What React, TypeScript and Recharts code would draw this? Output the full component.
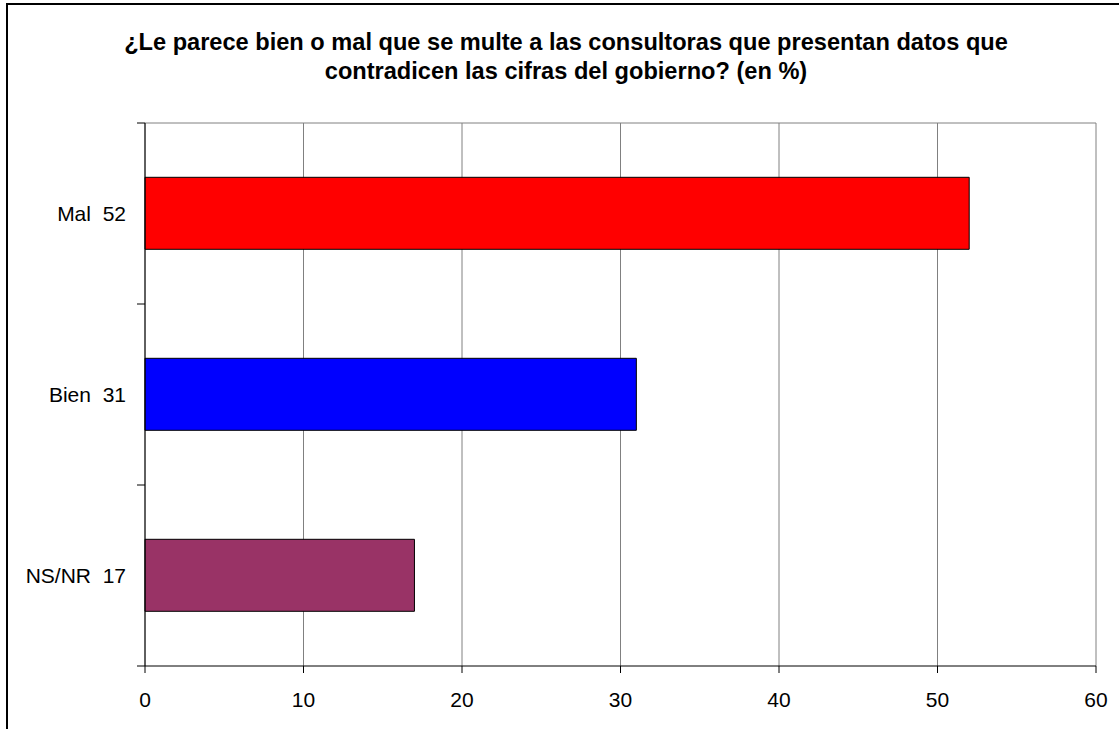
import React from "react";
import { BarChart, Bar, XAxis, YAxis, CartesianGrid, Cell } from "recharts";

const categories = ["Mal", "Bien", "NS/NR"];
const values = [52, 31, 17];
const barColors = ["#FF0000", "#0000FF", "#993366"];
const xTicks = [0, 10, 20, 30, 40, 50, 60];
const titleLines = [
  "¿Le parece bien o mal que se multe a las consultoras que presentan datos que",
  "contradicen las cifras del gobierno? (en %)",
];

const data = categories.map((name, i) => ({ name, label: `${name}  ${values[i]}`, value: values[i] }));

const FONT = "'Liberation Sans', Arial, sans-serif";
const Y_TICK_SIZE = 8;
const Y_TICK_MARGIN = 11;

function YTick(props: any) {
  const { x, y, payload, index } = props;
  const half = payload && typeof payload.offset === "number" ? payload.offset : 90.5;
  const axisX = x + Y_TICK_SIZE + Y_TICK_MARGIN;
  const item = data.find((d) => d.name === payload.value);
  return (
    <g>
      <line x1={axisX - Y_TICK_SIZE} x2={axisX} y1={y - half} y2={y - half} stroke="#000" strokeWidth={1} />
      {index === categories.length - 1 && (
        <line x1={axisX - Y_TICK_SIZE} x2={axisX} y1={y + half} y2={y + half} stroke="#000" strokeWidth={1} />
      )}
      <text x={x} y={y} dy="0.36em" textAnchor="end" fontSize={21} fill="#000" fontFamily={FONT} style={{ whiteSpace: "pre" }}>
        {item ? item.label : payload.value}
      </text>
    </g>
  );
}

export default function App() {
  return (
    <div style={{ position: "absolute", left: 0, top: 0, width: 1119, height: 729, background: "#fff", overflow: "hidden", fontFamily: FONT }}>
      <div
        style={{
          position: "absolute",
          left: 6,
          top: 3,
          width: 1200,
          height: 800,
          borderLeft: "2px solid #000",
          borderTop: "2px solid #000",
          boxSizing: "border-box",
        }}
      />
      <div
        style={{
          position: "absolute",
          left: 0,
          top: 28,
          width: 1132,
          textAlign: "center",
          fontWeight: "bold",
          fontSize: 23.6,
          lineHeight: "29px",
          color: "#000",
          fontFamily: FONT,
          whiteSpace: "nowrap",
        }}
      >
        {titleLines.map((t, i) => (
          <div key={i}>{t}</div>
        ))}
      </div>
      <div style={{ position: "absolute", left: 0, top: 0 }}>
        <BarChart
          width={1119}
          height={729}
          data={data}
          layout="vertical"
          margin={{ top: 123, right: 23, bottom: 0, left: 0 }}
          barCategoryGap="30%"
        >
          <CartesianGrid
            stroke="#808080"
            vertical={true}
            horizontal={true}
            horizontalCoordinatesGenerator={({ offset }: any) => [offset.top]}
          />
          <XAxis
            type="number"
            domain={[0, 60]}
            ticks={xTicks}
            interval={0}
            height={63}
            tickSize={7}
            tickMargin={19}
            axisLine={{ stroke: "#000" }}
            tickLine={{ stroke: "#000" }}
            tick={{ fontSize: 21, fill: "#000", fontFamily: FONT }}
          />
          <YAxis
            type="category"
            dataKey="name"
            width={145}
            tickSize={Y_TICK_SIZE}
            tickMargin={Y_TICK_MARGIN}
            tickLine={false}
            axisLine={{ stroke: "#000" }}
            tick={<YTick />}
            interval={0}
          />
          <Bar dataKey="value" stroke="#000" strokeWidth={1} isAnimationActive={false}>
            {data.map((d, i) => (
              <Cell key={d.name} fill={barColors[i]} />
            ))}
          </Bar>
        </BarChart>
      </div>
    </div>
  );
}
